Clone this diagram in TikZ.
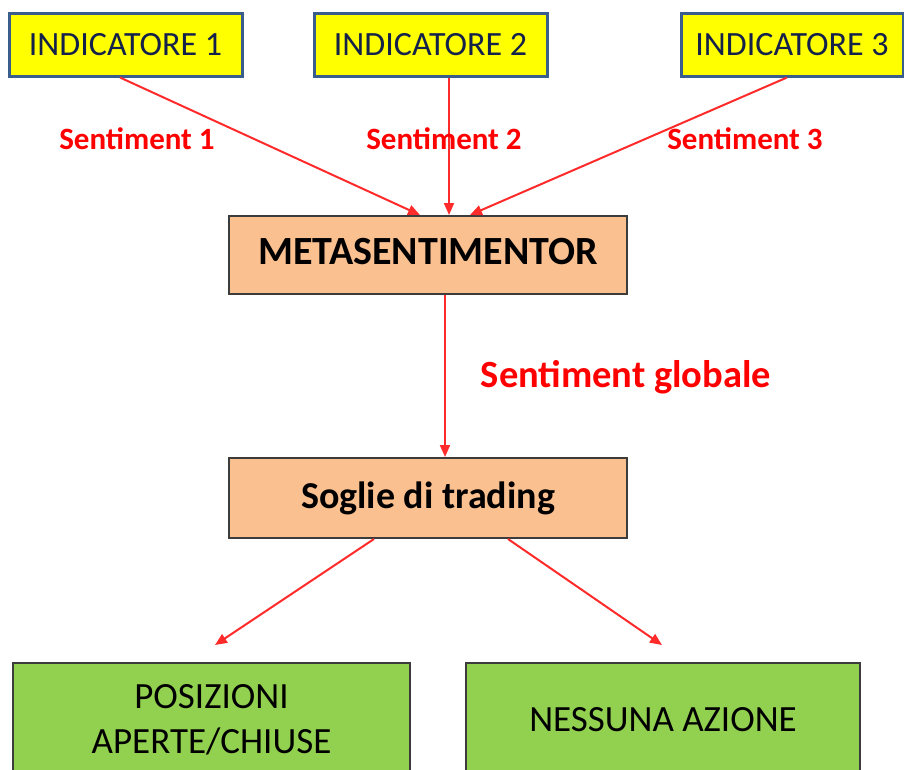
\documentclass[tikz,border=0pt]{standalone}
\usepackage{fontspec}
\setmainfont{Carlito}
\usetikzlibrary{arrows.meta,calc}
\definecolor{indfill}{HTML}{FFFF00}
\definecolor{indline}{HTML}{3A5E8C}
\definecolor{indtext}{HTML}{14214A}
\definecolor{peach}{HTML}{FAC090}
\definecolor{greenbox}{HTML}{92D050}
\definecolor{boxline}{HTML}{3C3C3C}
\definecolor{arrred}{HTML}{FF2A2A}
\definecolor{labred}{HTML}{FF0000}
\tikzset{
  indbox/.style={draw=indline, line width=3pt, fill=indfill, text=indtext,
    minimum width=233pt, minimum height=63pt, inner sep=0pt,
    font=\fontsize{34}{40}\selectfont},
  peachbox/.style={draw=boxline, line width=2pt, fill=peach, text=black,
    minimum width=398pt, inner sep=0pt, font=\bfseries\fontsize{38}{44}\selectfont},
  greenbx/.style={draw=boxline, line width=2pt, fill=greenbox, text=black,
    minimum width=397pt, minimum height=113pt, inner sep=0pt, align=center,
    font=\fontsize{37}{45}\selectfont},
  arr/.style={draw=arrred, line width=2pt, -{Triangle[length=12pt,width=10pt]}},
  lab/.style={text=labred, font=\bfseries\fontsize{31}{36}\selectfont, inner sep=0pt},
  labbig/.style={text=labred, font=\bfseries\fontsize{38.5}{44}\selectfont, inner sep=0pt}
}
\begin{document}
\begin{tikzpicture}[x=1pt,y=-1pt]
\useasboundingbox (0,0) rectangle (904,769);
\node[indbox] (ind1) at (125.5,44.5) {INDICATORE 1};
\node[indbox] (ind2) at (430.5,44.5) {INDICATORE 2};
\node[indbox, minimum width=222pt] (ind3) at (792,44.5) {INDICATORE 3};
\node[peachbox, minimum height=78pt, font=\bfseries\fontsize{40}{46}\selectfont] (meta) at (428,255) {\raisebox{7pt}{METASENTIMENTOR}};
\node[peachbox, minimum height=80pt] (soglie) at (428,498) {\raisebox{4pt}{Soglie di trading}};
\node[greenbx] (pos) at (211.5,719.5) {POSIZIONI\\APERTE/CHIUSE};
\node[greenbx, minimum width=394pt] (ness) at (663,719.5) {NESSUNA AZIONE};
\coordinate (c1) at (215,645);
\coordinate (c2) at (662,645);
\draw[arr] ([xshift=-5.5pt]ind1.south) -- ([xshift=-8pt]meta.north);
\draw[arr] ([xshift=18.5pt]ind2.south) -- ([xshift=21pt]meta.north);
\draw[arr] ([xshift=-5pt]ind3.south) -- ([xshift=42pt]meta.north);
\draw[arr] ([xshift=17pt]meta.south) -- ([xshift=17pt]soglie.north);
\draw[arr] ([xshift=-54pt]soglie.south) -- (c1);
\draw[arr] ([xshift=80pt]soglie.south) -- (c2);
\node[lab] (s1) at (137,139) {Sentiment 1};
\node[lab] (s2) at (444,139) {Sentiment 2};
\node[lab] (s3) at (745,139) {Sentiment 3};
\node[labbig] (sg) at (626,377) {Sentiment globale};
\end{tikzpicture}
\end{document}
